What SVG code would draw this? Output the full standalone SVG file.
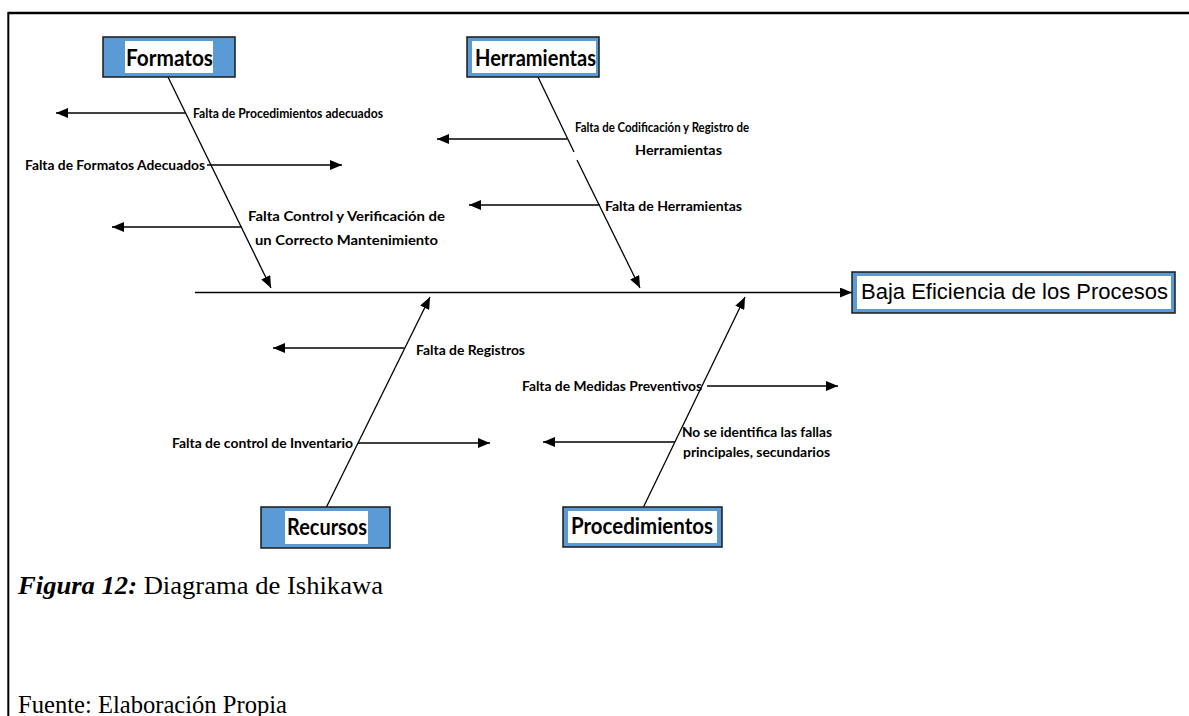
<svg xmlns="http://www.w3.org/2000/svg" width="1189" height="716" viewBox="0 0 1189 716">
  <style>
    .frame { stroke: #000; fill: none; }
    .stem { stroke: #000; stroke-width: 1.3; fill: none; }
    .branch { stroke: #000; stroke-width: 1.6; fill: none; marker-end: url(#head); }
    .spine { stroke: #000; stroke-width: 1.6; fill: none; marker-end: url(#head); }
    .cat-outer { fill: #5B9BD5; stroke: #1a1a1a; stroke-width: 1.5; }
    .cat-inner { fill: #fff; }
    .cat-text { font-family: Lato, "Liberation Sans", sans-serif; font-weight: bold; font-size: 23px; fill: #000; }
    .label { font-family: Lato, "Liberation Sans", sans-serif; font-weight: bold; font-size: 13px; fill: #000; }
    .effect-text { font-family: "Liberation Sans", Arial, sans-serif; font-size: 22px; fill: #000; }
    .caption { font-family: "Liberation Serif", "Times New Roman", serif; font-size: 26px; fill: #000; }
  </style>
  <defs>
    <marker id="head" viewBox="0 0 12 10" refX="12" refY="5" markerWidth="12" markerHeight="10" markerUnits="userSpaceOnUse" orient="auto">
      <path d="M0,0 L12,5 L0,10 Z" fill="#000"/>
    </marker>
  </defs>

  <rect width="1189" height="716" fill="#fff"/>

  <!-- page frame -->
  <g id="frame">
    <line class="frame" x1="8" y1="13" x2="1189" y2="13" stroke-width="2.6"/>
    <line class="frame" x1="8.3" y1="12" x2="8.3" y2="716" stroke-width="2"/>
  </g>

  <!-- connectors: spine, category stems and cause branches -->
  <g id="connectors">
    <line class="spine" x1="195" y1="292.5" x2="852" y2="292.5"/>

    <!-- Formatos -->
    <line class="stem" x1="168" y1="77" x2="271" y2="288" marker-end="url(#head)"/>
    <line class="branch" x1="185" y1="113" x2="56" y2="113"/>
    <line class="branch" x1="207" y1="165" x2="342" y2="165"/>
    <line class="branch" x1="242" y1="227" x2="112" y2="227"/>

    <!-- Herramientas -->
    <line class="stem" x1="538" y1="77" x2="574" y2="152"/>
    <line class="stem" x1="577" y1="160" x2="640" y2="288" marker-end="url(#head)"/>
    <line class="branch" x1="567" y1="139" x2="437" y2="139"/>
    <line class="branch" x1="600" y1="205" x2="469" y2="205"/>

    <!-- Recursos -->
    <line class="stem" x1="326" y1="508" x2="430" y2="297" marker-end="url(#head)"/>
    <line class="branch" x1="404" y1="348" x2="273" y2="348"/>
    <line class="branch" x1="358" y1="443" x2="490" y2="443"/>

    <!-- Procedimientos -->
    <line class="stem" x1="643" y1="508" x2="745" y2="297" marker-end="url(#head)"/>
    <line class="branch" x1="707" y1="386" x2="838" y2="386"/>
    <line class="branch" x1="675" y1="442" x2="543" y2="442"/>
  </g>

  <!-- effect -->
  <g id="effect">
    <rect class="cat-outer" x="852" y="272" width="323" height="41"/>
    <rect class="cat-inner" x="857" y="276" width="314" height="33"/>
    <text class="effect-text" x="861" y="299" textLength="307" lengthAdjust="spacingAndGlyphs">Baja Eficiencia de los Procesos</text>
  </g>

  <!-- categories -->
  <g id="cat-formatos">
    <rect class="cat-outer" x="103" y="37" width="132" height="40"/>
    <rect class="cat-inner" x="125" y="41" width="88" height="32"/>
    <text class="cat-text" x="126" y="66" textLength="87" lengthAdjust="spacingAndGlyphs">Formatos</text>
  </g>
  <g id="cat-herramientas">
    <rect class="cat-outer" x="467" y="37" width="132" height="40"/>
    <rect class="cat-inner" x="472" y="41" width="124" height="32"/>
    <text class="cat-text" x="475" y="66" textLength="121" lengthAdjust="spacingAndGlyphs">Herramientas</text>
  </g>
  <g id="cat-recursos">
    <rect class="cat-outer" x="261" y="507" width="129" height="41"/>
    <rect class="cat-inner" x="285" y="511" width="83" height="33"/>
    <text class="cat-text" x="287" y="535" textLength="80" lengthAdjust="spacingAndGlyphs">Recursos</text>
  </g>
  <g id="cat-procedimientos">
    <rect class="cat-outer" x="563" y="507" width="159" height="40"/>
    <rect class="cat-inner" x="568" y="511" width="149" height="32"/>
    <text class="cat-text" x="571" y="534" textLength="142" lengthAdjust="spacingAndGlyphs">Procedimientos</text>
  </g>

  <!-- causes -->
  <g id="causes">
    <text class="label" x="193" y="118" textLength="190" lengthAdjust="spacingAndGlyphs">Falta de Procedimientos adecuados</text>
    <text class="label" x="25" y="170" textLength="180" lengthAdjust="spacingAndGlyphs">Falta de Formatos Adecuados</text>
    <text class="label" x="248" y="221" textLength="197" lengthAdjust="spacingAndGlyphs">Falta Control y Verificación de</text>
    <text class="label" x="255" y="245" textLength="183" lengthAdjust="spacingAndGlyphs">un Correcto Mantenimiento</text>

    <text class="label" x="575" y="132" textLength="174" lengthAdjust="spacingAndGlyphs">Falta de Codificación y Registro de</text>
    <text class="label" x="635" y="155" textLength="87" lengthAdjust="spacingAndGlyphs">Herramientas</text>
    <text class="label" x="605" y="211" textLength="137" lengthAdjust="spacingAndGlyphs">Falta de Herramientas</text>

    <text class="label" x="416" y="355" textLength="109" lengthAdjust="spacingAndGlyphs">Falta de Registros</text>
    <text class="label" x="172" y="448" textLength="181" lengthAdjust="spacingAndGlyphs">Falta de control de Inventario</text>

    <text class="label" x="522" y="391" textLength="180" lengthAdjust="spacingAndGlyphs">Falta de Medidas Preventivos</text>
    <text class="label" x="682" y="437" textLength="150" lengthAdjust="spacingAndGlyphs">No se identifica las fallas</text>
    <text class="label" x="683" y="457" textLength="147" lengthAdjust="spacingAndGlyphs">principales, secundarios</text>
  </g>

  <!-- caption -->
  <g id="caption">
    <text class="caption" x="18" y="594" textLength="365" lengthAdjust="spacingAndGlyphs"><tspan font-weight="bold" font-style="italic">Figura 12:</tspan> Diagrama de Ishikawa</text>
    <text class="caption" x="18" y="713" font-size="25" textLength="269" lengthAdjust="spacingAndGlyphs">Fuente: Elaboración Propia</text>
  </g>
</svg>
